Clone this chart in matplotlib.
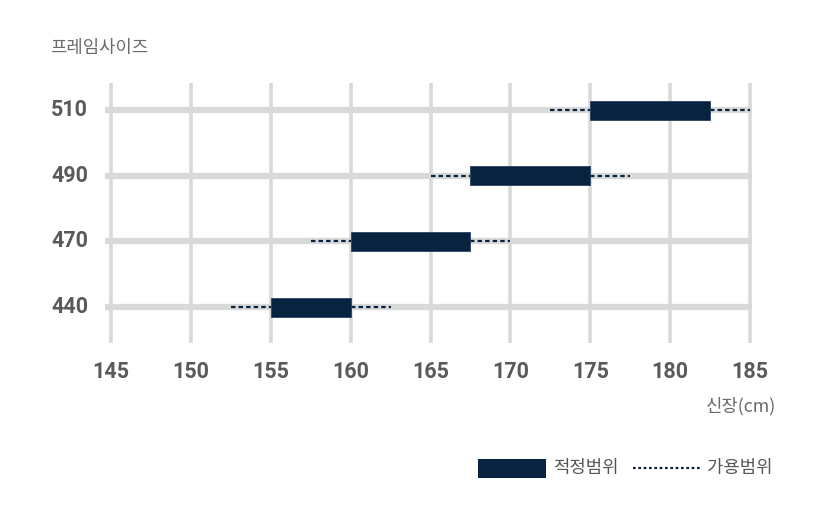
import matplotlib
matplotlib.use("Agg")
import matplotlib.pyplot as plt
from matplotlib.patches import Rectangle
from matplotlib.lines import Line2D

sizes = ["440", "470", "490", "510"]
fit_low = [155, 160, 167.5, 175]
fit_high = [160, 167.5, 175, 182.5]
ok_low = [152.5, 157.5, 165, 172.5]
ok_high = [162.5, 170, 177.5, 185]
x_ticks = [145, 150, 155, 160, 165, 170, 175, 180, 185]

NAVY = "#08233f"
GRID = "#d9d9d9"
KR = ["Noto Sans CJK KR", "DejaVu Sans"]

W, H = 825, 521
fig = plt.figure(figsize=(W / 100, H / 100), dpi=100)
px_per_x = (750 - 111) / 40.0
px_per_y = (307 - 110) / 3.0
ax_left_px, ax_right_px = 100, 760
ax_top_px, ax_bot_px = 80, 345
ax = fig.add_axes([ax_left_px / W, 1 - ax_bot_px / H, (ax_right_px - ax_left_px) / W, (ax_bot_px - ax_top_px) / H])
x0 = 145 - (111 - ax_left_px) / px_per_x
x1 = 145 + (ax_right_px - 111) / px_per_x
y0 = 0 - (ax_bot_px - 307) / px_per_y
y1 = 3 + (110 - ax_top_px) / px_per_y
ax.set_xlim(x0, x1)
ax.set_ylim(y0, y1)
for s in ax.spines.values():
    s.set_visible(False)
ax.set_xticks([])
ax.set_yticks([])
ax.patch.set_alpha(0)

ytop_grid = 3 + (110 - 83) / px_per_y
ybot_grid = 0 - (343 - 307) / px_per_y
xleft_grid = 145 - (111 - 105) / px_per_x
ypos = list(range(len(sizes)))
ax.vlines(x_ticks, ybot_grid, ytop_grid, colors=GRID, linewidth=2.6, zorder=1)
ax.hlines(ypos, xleft_grid, 185.1, colors=GRID, linewidth=4.5, zorder=1)

bar_h = 19 / px_per_y
for i in ypos:
    ax.plot([ok_low[i], fit_low[i]], [i, i], color=NAVY, linewidth=1.6,
            linestyle=(0, (2.0, 1.4)), zorder=2, dash_capstyle="butt")
    ax.plot([fit_high[i], ok_high[i]], [i, i], color=NAVY, linewidth=1.6,
            linestyle=(0, (2.0, 1.4)), zorder=2, dash_capstyle="butt")
    ax.add_patch(Rectangle((fit_low[i], i - bar_h / 2), fit_high[i] - fit_low[i], bar_h,
                           facecolor=NAVY, edgecolor="#2a4260", linewidth=0.6, zorder=3))

for v in x_ticks:
    fig.text((111 + (v - 145) * px_per_x) / W, 1 - 372 / H, str(v), ha="center", va="center",
             fontsize=15.5, fontweight="bold", color="#5a5a5a", family=["Roboto", "DejaVu Sans"])
for i, s in enumerate(sizes):
    fig.text(88 / W, 1 - (307 - i * px_per_y) / H, s, ha="right", va="center",
             fontsize=15.5, fontweight="bold", color="#5a5a5a", family=["Roboto", "DejaVu Sans"])

fig.text(50 / W, 1 - 48 / H, "프레임사이즈", ha="left", va="center", fontsize=12.8, color="#6a6a6a", family=KR)
fig.text(776 / W, 1 - 406 / H, "신장(cm)", ha="right", va="center", fontsize=12.8, color="#6a6a6a", family=KR)

# legend
fig.patches.append(Rectangle((478 / W, 1 - 478 / H), 68 / W, 19 / H, transform=fig.transFigure,
                             facecolor=NAVY, edgecolor="none"))
fig.text(553 / W, 1 - 468 / H, "적정범위", ha="left", va="center", fontsize=12.8, color="#555555", family=KR)
fig.lines.append(Line2D([633 / W, 700 / W], [1 - 468 / H, 1 - 468 / H], transform=fig.transFigure,
                        color=NAVY, linewidth=1.6, linestyle=(0, (1.2, 1.2))))
fig.text(707 / W, 1 - 468 / H, "가용범위", ha="left", va="center", fontsize=12.8, color="#555555", family=KR)

fig.savefig("out.png", dpi=100, facecolor="white")
